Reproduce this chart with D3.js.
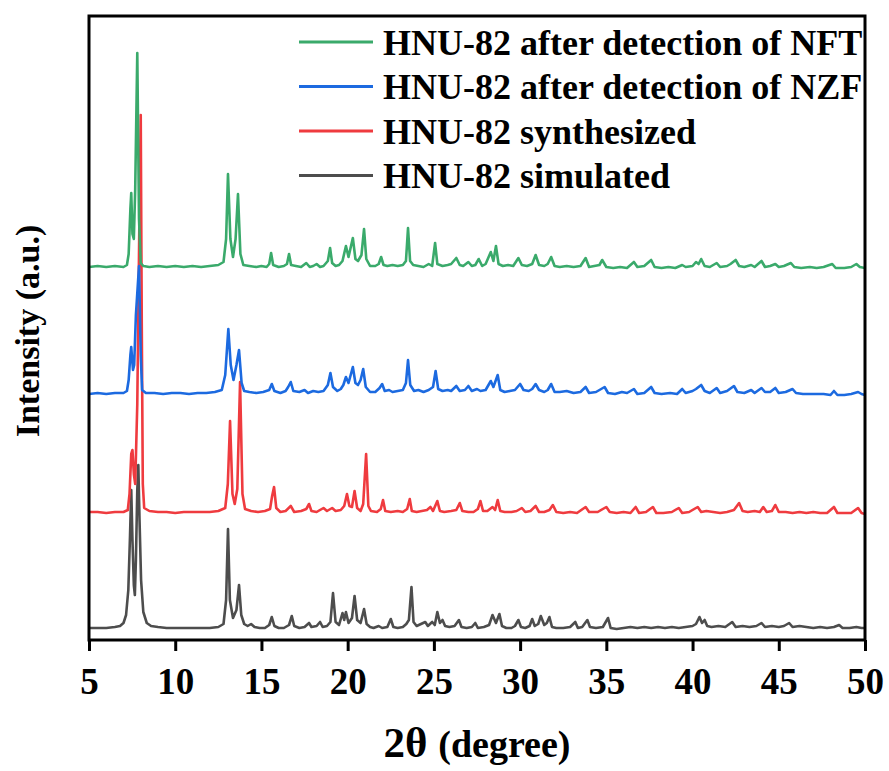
<!DOCTYPE html>
<html>
<head>
<meta charset="utf-8">
<script src="https://cdn.jsdelivr.net/npm/d3@7"></script>
<style>
  body { margin: 0; background: #fff; }
  text { font-family: "Liberation Serif", "Times New Roman", serif; font-weight: bold; }
</style>
</head>
<body>
<div id="chart"></div>
<script>
var width = 889, height = 771;
var margin = {top: 16, right: 24, bottom: 131, left: 89};

// series, in stacking order (bottom to top), values as [2theta, intensity]
var seriesNames = ["HNU-82 simulated", "HNU-82 synthesized", "HNU-82 after detection of NZF", "HNU-82 after detection of NFT"];
var seriesColors = ["#4d4d4d", "#ef3b3f", "#1c6ae0", "#3aaa6b"];
var seriesOffsets = [0, 116, 235, 361];
var xTicks = [5, 10, 15, 20, 25, 30, 35, 40, 45, 50];

var simulated = [[5.0,12],[5.5,12],[6.0,12],[6.5,13],[6.8,14],[7.0,17],[7.15,25],[7.28,50],[7.38,105],[7.45,150],[7.52,100],[7.6,55],[7.66,45],[7.72,80],[7.8,150],[7.86,175],[7.93,120],[8.02,60],[8.15,28],[8.35,17],[8.6,14],[9.0,13],[9.5,12],[10,12],[10.5,12],[11,12],[11.5,12],[12,12],[12.5,13],[12.8,16],[12.95,40],[13.06,111],[13.17,40],[13.35,22],[13.55,30],[13.7,55],[13.83,25],[14.0,16],[14.2,14],[14.4,16],[14.6,13],[14.9,12],[15.2,12],[15.45,15],[15.6,23],[15.75,14],[16.0,12],[16.3,12],[16.6,15],[16.76,24],[16.9,14],[17.2,12],[17.5,13],[17.76,17],[17.9,13],[18.2,14],[18.4,18],[18.55,13],[18.8,14],[19.0,18],[19.15,47],[19.3,18],[19.5,15],[19.7,27],[19.8,20],[19.9,28],[20.05,17],[20.25,22],[20.4,44],[20.55,20],[20.75,17],[20.95,31],[21.1,16],[21.3,13],[21.5,12],[21.8,14],[22.0,12],[22.3,13],[22.5,21],[22.65,13],[22.9,12],[23.2,13],[23.4,16],[23.55,20],[23.7,53],[23.82,18],[24.0,14],[24.25,16],[24.5,18],[24.65,14],[24.9,18],[25.05,15],[25.2,28],[25.35,17],[25.5,20],[25.65,14],[25.9,13],[26.2,14],[26.45,20],[26.6,13],[26.9,12],[27.2,13],[27.4,17],[27.55,12],[27.9,13],[28.2,15],[28.4,25],[28.6,17],[28.8,26],[28.95,14],[29.2,12],[29.5,12],[29.7,14],[29.9,20],[30.05,13],[30.3,12],[30.55,14],[30.7,21],[30.85,14],[31.05,16],[31.2,24],[31.4,15],[31.55,17],[31.7,23],[31.85,13],[32.1,12],[32.5,12],[32.9,13],[33.2,18],[33.35,12],[33.6,13],[33.9,20],[34.05,13],[34.4,12],[34.8,13],[35.1,22],[35.25,12],[35.6,11],[36.0,12],[36.4,13],[36.8,12],[37.2,13],[37.6,12],[38.0,13],[38.4,12],[38.8,13],[39.2,12],[39.6,13],[40.0,14],[40.2,16],[40.4,23],[40.55,17],[40.7,20],[40.85,14],[41.1,13],[41.5,14],[41.9,13],[42.3,18],[42.5,13],[42.9,14],[43.3,13],[43.7,14],[44.0,17],[44.2,13],[44.6,14],[45.0,13],[45.3,14],[45.6,17],[45.8,13],[46.2,14],[46.6,13],[47.0,12],[47.4,13],[47.8,12],[48.2,13],[48.5,15],[48.7,12],[49.1,12],[49.5,13],[49.8,12],[50,12]];

var synthesized = [[5.0,12],[5.5,12],[6.0,11],[6.5,12],[7.0,12],[7.25,14],[7.35,30],[7.45,70],[7.52,74],[7.6,50],[7.68,40],[7.8,120],[7.92,300],[8.0,409],[8.06,200],[8.12,40],[8.2,16],[8.5,13],[9,12],[9.5,12],[10,11],[10.5,12],[11,12],[11.5,12],[12,12],[12.5,13],[12.9,16],[13.05,40],[13.18,103],[13.32,30],[13.45,20],[13.6,35],[13.76,142],[13.9,30],[14.05,15],[14.4,13],[14.8,12],[15.2,13],[15.5,15],[15.62,28],[15.73,37],[15.86,16],[16.1,12],[16.4,13],[16.7,18],[16.9,12],[17.3,13],[17.6,15],[17.76,20],[17.9,13],[18.2,12],[18.6,16],[18.8,13],[19.1,16],[19.3,13],[19.6,14],[19.8,18],[19.96,30],[20.1,18],[20.25,17],[20.4,33],[20.55,16],[20.75,13],[20.9,20],[21.07,70],[21.2,18],[21.35,13],[21.7,12],[21.92,15],[22.05,24],[22.18,13],[22.5,12],[22.9,13],[23.2,12],[23.45,15],[23.6,25],[23.72,13],[24.0,12],[24.3,13],[24.6,14],[24.8,17],[24.95,13],[25.2,23],[25.35,13],[25.6,12],[26.0,13],[26.3,14],[26.5,21],[26.65,13],[27.0,12],[27.3,12],[27.55,15],[27.7,23],[27.85,13],[28.1,13],[28.4,17],[28.55,14],[28.7,24],[28.85,13],[29.1,12],[29.5,12],[29.8,13],[30.1,16],[30.3,12],[30.6,13],[30.9,18],[31.1,12],[31.4,12],[31.7,14],[31.9,19],[32.1,12],[32.5,11],[32.9,12],[33.3,11],[33.8,17],[34.0,12],[34.5,12],[35.0,17],[35.2,12],[35.6,11],[36.0,12],[36.4,11],[36.7,17],[36.9,11],[37.3,12],[37.7,17],[37.9,11],[38.3,11],[38.8,12],[39.2,16],[39.4,11],[39.8,12],[40.3,17],[40.5,12],[40.8,13],[41.2,12],[41.6,11],[42.0,12],[42.4,14],[42.7,21],[42.9,13],[43.2,12],[43.6,13],[43.9,12],[44.1,17],[44.3,12],[44.6,13],[44.8,19],[45.0,12],[45.4,12],[45.8,11],[46.2,12],[46.6,11],[47.0,12],[47.4,11],[47.8,11],[48.2,17],[48.4,11],[48.8,11],[49.2,11],[49.6,16],[49.8,11],[50,10]];

var afterNZF = [[5.0,11],[5.5,12],[6.0,11],[6.5,12],[7.0,12],[7.2,14],[7.3,25],[7.4,50],[7.45,58],[7.55,35],[7.62,40],[7.72,90],[7.9,139],[8.0,50],[8.08,15],[8.3,12],[8.8,12],[9.3,11],[9.8,12],[10.3,12],[10.8,11],[11.3,12],[11.8,12],[12.3,13],[12.7,15],[12.9,30],[13.08,76],[13.22,40],[13.38,25],[13.55,40],[13.7,55],[13.85,22],[14.0,14],[14.3,13],[14.7,12],[15.1,13],[15.45,15],[15.6,21],[15.75,14],[16.1,12],[16.4,14],[16.55,18],[16.7,23],[16.85,14],[17.2,13],[17.5,15],[17.7,12],[18.0,14],[18.3,13],[18.6,14],[18.85,20],[19.0,32],[19.15,18],[19.4,14],[19.6,16],[19.75,20],[19.9,28],[20.05,22],[20.3,38],[20.45,22],[20.6,20],[20.75,25],[20.9,36],[21.05,18],[21.3,13],[21.6,13],[21.85,17],[22.0,21],[22.15,14],[22.4,15],[22.6,13],[22.9,14],[23.2,15],[23.38,22],[23.5,45],[23.63,20],[23.85,14],[24.1,15],[24.4,13],[24.7,15],[24.95,18],[25.1,34],[25.25,16],[25.5,14],[25.8,15],[26.0,14],[26.3,19],[26.5,14],[26.8,15],[27.0,19],[27.2,14],[27.5,16],[27.7,14],[28.0,15],[28.3,24],[28.45,18],[28.7,30],[28.85,15],[29.1,13],[29.4,14],[29.7,15],[30.0,21],[30.2,15],[30.5,14],[30.7,16],[30.9,21],[31.1,15],[31.4,13],[31.6,15],[31.8,21],[32.0,13],[32.3,13],[32.7,14],[33.1,12],[33.5,13],[33.8,18],[34.0,12],[34.4,13],[34.9,18],[35.1,12],[35.5,11],[35.9,13],[36.2,12],[36.6,16],[36.8,11],[37.2,12],[37.6,18],[37.8,12],[38.2,11],[38.7,12],[39.1,11],[39.4,16],[39.6,12],[40.0,14],[40.2,16],[40.5,20],[40.7,14],[41.0,12],[41.4,17],[41.6,12],[42.0,14],[42.4,19],[42.6,13],[43.0,12],[43.4,15],[43.6,12],[44.0,17],[44.2,13],[44.5,13],[44.8,17],[45.0,12],[45.4,13],[45.8,16],[46.0,12],[46.4,11],[46.8,11],[47.2,11],[47.6,11],[48.0,10],[48.2,14],[48.4,10],[48.8,10],[49.2,11],[49.6,13],[49.8,11],[50,10]];

var afterNFT = [[5.0,12],[5.5,13],[6.0,12],[6.5,13],[7.0,12],[7.2,14],[7.3,25],[7.4,70],[7.45,86],[7.52,45],[7.6,40],[7.68,90],[7.8,226],[7.9,60],[8.0,16],[8.15,13],[8.5,12],[9,13],[9.5,12],[10,13],[10.5,12],[11,13],[11.5,12],[12,13],[12.5,14],[12.8,17],[12.95,40],[13.06,105],[13.2,40],[13.35,22],[13.5,40],[13.64,85],[13.78,25],[13.95,14],[14.3,13],[14.7,12],[15.0,13],[15.3,12],[15.45,15],[15.56,26],[15.68,14],[16.0,12],[16.3,13],[16.48,15],[16.6,25],[16.72,14],[17.0,13],[17.3,12],[17.6,16],[17.8,12],[18.0,13],[18.2,15],[18.4,12],[18.6,13],[18.85,18],[18.98,31],[19.1,16],[19.3,13],[19.5,14],[19.7,18],[19.9,33],[20.05,22],[20.3,41],[20.45,20],[20.6,18],[20.8,24],[20.95,50],[21.08,20],[21.3,13],[21.6,13],[21.8,15],[21.94,22],[22.08,14],[22.3,13],[22.6,14],[22.9,13],[23.2,14],[23.38,18],[23.5,51],[23.62,18],[23.8,14],[24.1,13],[24.4,12],[24.7,15],[24.9,13],[25.07,36],[25.2,15],[25.5,13],[25.8,14],[26.0,15],[26.3,21],[26.5,14],[26.7,13],[27.0,17],[27.2,13],[27.4,14],[27.6,20],[27.8,13],[28.0,15],[28.3,27],[28.45,18],[28.6,33],[28.75,15],[29.0,13],[29.3,14],[29.6,13],[29.9,21],[30.1,14],[30.4,13],[30.7,15],[30.9,24],[31.1,14],[31.4,13],[31.6,15],[31.8,22],[32.0,13],[32.3,12],[32.7,13],[33.1,12],[33.5,13],[33.8,21],[34.0,12],[34.3,13],[34.6,14],[34.76,19],[35.0,12],[35.4,11],[35.8,12],[36.2,11],[36.6,17],[36.8,12],[37.2,13],[37.6,19],[37.8,12],[38.2,11],[38.6,12],[39.0,11],[39.4,14],[39.6,12],[40.0,13],[40.2,17],[40.35,15],[40.5,20],[40.7,13],[41.0,12],[41.4,16],[41.6,12],[42.0,13],[42.2,15],[42.5,19],[42.7,13],[43.0,12],[43.4,14],[43.6,12],[44.0,18],[44.2,12],[44.5,13],[44.8,15],[45.0,12],[45.3,13],[45.7,16],[45.9,12],[46.3,11],[46.8,12],[47.2,11],[47.6,12],[48.1,15],[48.3,11],[48.8,11],[49.2,12],[49.5,15],[49.7,12],[50,11]];

var allSeries = [simulated, synthesized, afterNZF, afterNFT];

var w = width - margin.left - margin.right,
    h = height - margin.top - margin.bottom;

var svg = d3.select("#chart").append("svg")
    .attr("width", width)
    .attr("height", height);
var g = svg.append("g").attr("transform", "translate(" + margin.left + "," + margin.top + ")");

var x = d3.scaleLinear().domain([5, 50]).range([0, w]);
var y = d3.scaleLinear().domain([0, 624]).range([h, 0]); // arbitrary units

g.append("clipPath").attr("id", "clip")
  .append("rect").attr("width", w).attr("height", h);

// curves, simulated drawn first
allSeries.forEach(function (data, i) {
    var line = d3.line()
        .x(function (d) { return x(d[0]); })
        .y(function (d) { return y(d[1] + seriesOffsets[i]); });
    g.append("path")
        .datum(data)
        .attr("clip-path", "url(#clip)")
        .attr("fill", "none")
        .attr("stroke", seriesColors[i])
        .attr("stroke-width", 2.6)
        .attr("stroke-linejoin", "round")
        .attr("d", line);
});

// frame
g.append("rect")
    .attr("width", w).attr("height", h)
    .attr("fill", "none").attr("stroke", "#000").attr("stroke-width", 3);

var xAxis = g.append("g")
    .attr("transform", "translate(0," + h + ")")
    .call(d3.axisBottom(x).tickValues(xTicks).tickSize(11).tickPadding(17).tickSizeOuter(0));
xAxis.select(".domain").remove();
xAxis.selectAll("line").attr("stroke", "#000").attr("stroke-width", 3);
xAxis.selectAll("text")
    .attr("fill", "#000")
    .style("font-size", "37px")
    .style("font-family", "Liberation Serif, serif")
    .style("font-weight", "bold");

// axis titles
var xt = g.append("text")
    .attr("x", w / 2).attr("y", h + 117)
    .attr("text-anchor", "middle")
    .attr("fill", "#000");
xt.append("tspan").style("font-size", "43px").text("2θ ");
xt.append("tspan").style("font-size", "38px").text("(degree)");

g.append("text")
    .attr("transform", "translate(" + -50 + "," + (h / 2 + 3) + ")rotate(-90)")
    .attr("text-anchor", "middle")
    .attr("fill", "#000")
    .style("font-size", "34px")
    .text("Intensity (a.u.)");

// legend, top entry first
var legend = g.append("g").attr("transform", "translate(210,26)");
var legendOrder = [3, 2, 1, 0];
legendOrder.forEach(function (si, k) {
    var row = legend.append("g").attr("transform", "translate(0," + (k * 44.5) + ")");
    row.append("line")
        .attr("x1", 0).attr("x2", 74)
        .attr("stroke", seriesColors[si]).attr("stroke-width", 3);
    row.append("text")
        .attr("x", 84).attr("dy", "0.35em")
        .attr("fill", "#000")
        .style("font-size", "36px")
        .text(seriesNames[si]);
});
</script>
</body>
</html>
